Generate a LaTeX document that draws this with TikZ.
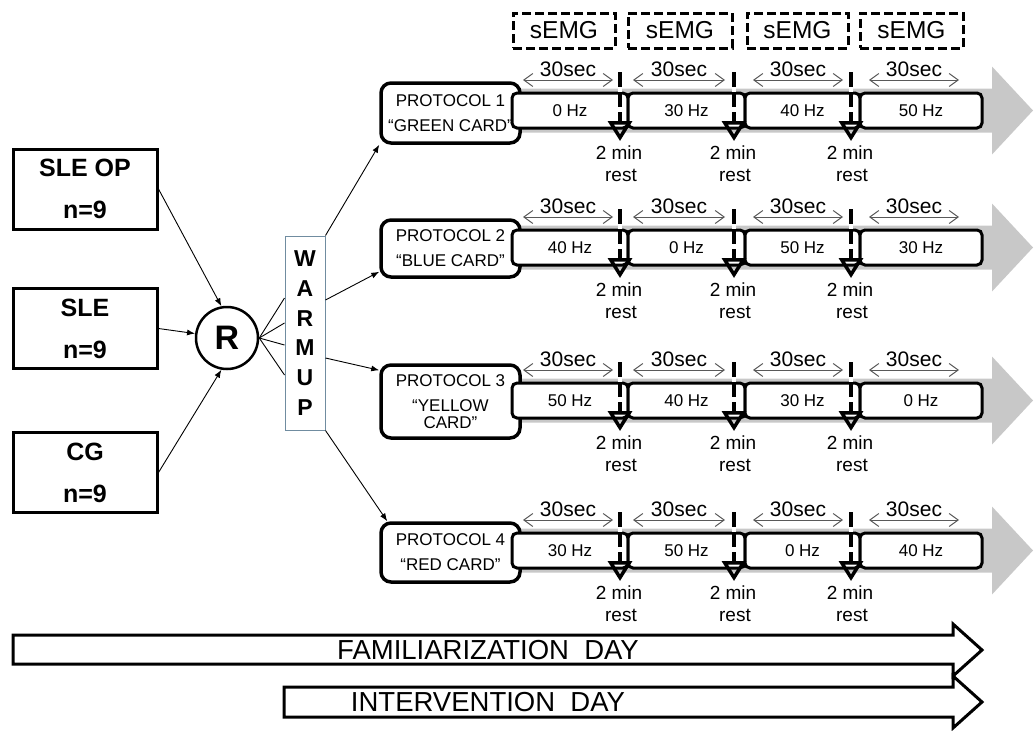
\documentclass[tikz,border=0pt]{standalone}
\usepackage{fontspec}
\setmainfont{Liberation Sans}
\usetikzlibrary{arrows.meta}
\definecolor{warmedge}{RGB}{112,140,160}
\definecolor{bandgray}{RGB}{200,200,200}

\begin{document}
\begin{tikzpicture}[x=1pt,y=-1pt,
  every node/.style={inner sep=0pt},
  grpbox/.style={draw,line width=3pt,minimum width=144pt,minimum height=80pt,align=center,
    font=\bfseries\fontsize{25}{42}\selectfont},
  linkarrow/.style={line width=0.9pt,-{Latex[length=8pt,width=6pt]}},
  plainlink/.style={line width=0.9pt},
  protobox/.style={draw,line width=3.5pt,rounded corners=10pt,fill=white,minimum width=139pt,
    align=center,font=\fontsize{17}{17}\selectfont},
  segbox/.style={draw,line width=3pt,rounded corners=5pt,fill=white,minimum height=35pt,
    font=\fontsize{17}{17}\selectfont},
  emgbox/.style={draw,line width=3pt,dash pattern=on 9pt off 4pt,minimum height=35pt,
    font=\fontsize{24.5}{24.5}\selectfont},
  secarrow/.style={line width=1pt,draw=black!65,
    {Straight Barb[length=9pt,width=13pt]}-{Straight Barb[length=9pt,width=13pt]}},
  seclabel/.style={font=\fontsize{21}{21}\selectfont},
  restlabel/.style={font=\fontsize{19}{19}\selectfont},
  markerbase/.style={line width=4pt,white},
  marker/.style={line width=4pt,dash pattern=on 15pt off 5pt,
    -{Triangle[open,width=24pt,length=20pt,line width=3.5pt]}},
  dayarrow/.style={draw,line width=3pt,fill=white,line join=miter},
  daylabel/.style={font=\fontsize{27.5}{27.5}\selectfont}
]
\useasboundingbox (0,0) rectangle (1034,731);

% groups and randomisation
\node[grpbox] (sleop) at (85,189) {SLE OP\\n=9};
\node[grpbox] (sle)   at (85,328.5) {SLE\\n=9};
\node[grpbox] (cg)    at (85,472.5) {CG\\n=9};
\node[circle,draw,line width=2.5pt,minimum size=62pt,
      font=\bfseries\fontsize{34}{34}\selectfont] (rnd) at (227,338) {R};
\node[draw=warmedge,line width=1pt,minimum width=40pt,minimum height=194pt,align=center,
      font=\bfseries\fontsize{23}{29.8}\selectfont] (warm) at (305,333) {W\\A\\R\\M\\U\\P};

\draw[linkarrow] (sleop.east) -- (rnd.100);
\draw[linkarrow] (sle.east) -- (rnd);
\draw[linkarrow] (cg.east) -- (rnd.260);

\draw[plainlink] (rnd.east) -- ([yshift=35pt]warm.west);
\draw[plainlink] (rnd.east) -- ([yshift=10pt]warm.west);
\draw[plainlink] (rnd.east) -- ([yshift=-12pt]warm.west);
\draw[plainlink] (rnd.east) -- ([yshift=-42pt]warm.west);

% sEMG recording windows
\node[emgbox,minimum width=102pt] (emg1) at (564,30.5) {sEMG};
\node[emgbox,minimum width=104pt] (emg2) at (680,30.5) {sEMG};
\node[emgbox,minimum width=101pt] (emg3) at (797.5,30.5) {sEMG};
\node[emgbox,minimum width=103pt] (emg4) at (911.5,30.5) {sEMG};

% protocol rows
\foreach \r/\T/\pc/\ph/\ha/\hb/\hc/\hd/\ptext in {
  1/93/113/60/0/30/40/50/{PROTOCOL 1\\[8pt]“GREEN CARD”},
  2/230/248.5/57/40/0/50/30/{PROTOCOL 2\\[8pt]“BLUE CARD”},
  3/383/401.5/73/50/40/30/0/{PROTOCOL 3\\[8pt]“YELLOW\\CARD”},
  4/533/552.5/59/30/50/0/40/{PROTOCOL 4\\[8pt]“RED CARD”}}{
  % grey time arrow behind the row
  \fill[bandgray] (500,\T-4.5) -- (992,\T-4.5) -- (992,\T-26.5) -- (1033,\T+17.5)
     -- (992,\T+61.5) -- (992,\T+39.5) -- (500,\T+39.5) -- cycle;
  \node[protobox,minimum height=\ph pt] (p\r) at (450.5,\pc) {\ptext};
  \node[segbox,minimum width=116pt] (s\r-1) at (570,\T+17.5) {\ha\ Hz};
  \node[segbox,minimum width=117pt] (s\r-2) at (686.5,\T+17.5) {\hb\ Hz};
  \node[segbox,minimum width=115pt] (s\r-3) at (802.5,\T+17.5) {\hc\ Hz};
  \node[segbox,minimum width=122pt] (s\r-4) at (921,\T+17.5) {\hd\ Hz};
  % 30 s bouts
  \foreach \i/\xl/\xr in {1/523/613, 2/633/725, 3/753/843, 4/869/959}{
    \coordinate (a\r-\i-l) at (\xl,\T-13);
    \coordinate (a\r-\i-r) at (\xr,\T-13);
    \draw[secarrow] (a\r-\i-l) -- (a\r-\i-r);
    \node[seclabel] (t\r-\i) at ({(\xl+\xr)/2},\T-24) {30sec};
  }
  % rest markers
  \foreach \i/\x in {1/620, 2/734, 3/851}{
    \coordinate (m\r-\i-top) at (\x,\T-21);
    \coordinate (m\r-\i-tip) at (\x,\T+48);
    \draw[markerbase] (m\r-\i-top) -- ([yshift=20pt]m\r-\i-tip);
    \draw[marker] (m\r-\i-top) -- (m\r-\i-tip);
    \node[restlabel] (two\r-\i) at (\x-1,\T+60) {2 min};
    \node[restlabel] (rest\r-\i) at (\x+1,\T+82) {rest};
  }
}

\draw[linkarrow] (warm.north east) -- (p1.south west);
\draw[linkarrow] ([yshift=33pt]warm.east) -- ([yshift=7pt]p2.south west);
\draw[linkarrow] ([yshift=-25pt]warm.east) -- ([yshift=-7pt]p3.north west);
\draw[linkarrow] (warm.south east) -- ([xshift=8pt]p4.north west);

% study days
\path[dayarrow] (13,635) -- (953,635) -- (953,624) -- (982,650) -- (953,676)
   -- (953,664) -- (13,664) -- cycle;
\path[dayarrow] (284,687) -- (953,687) -- (953,676) -- (982,702) -- (953,728)
   -- (953,717) -- (284,717) -- cycle;
\node[daylabel] (famday) at (488,650) {FAMILIARIZATION~~DAY};
\node[daylabel] (intday) at (488,702) {INTERVENTION~~DAY};
\end{tikzpicture}
\end{document}
